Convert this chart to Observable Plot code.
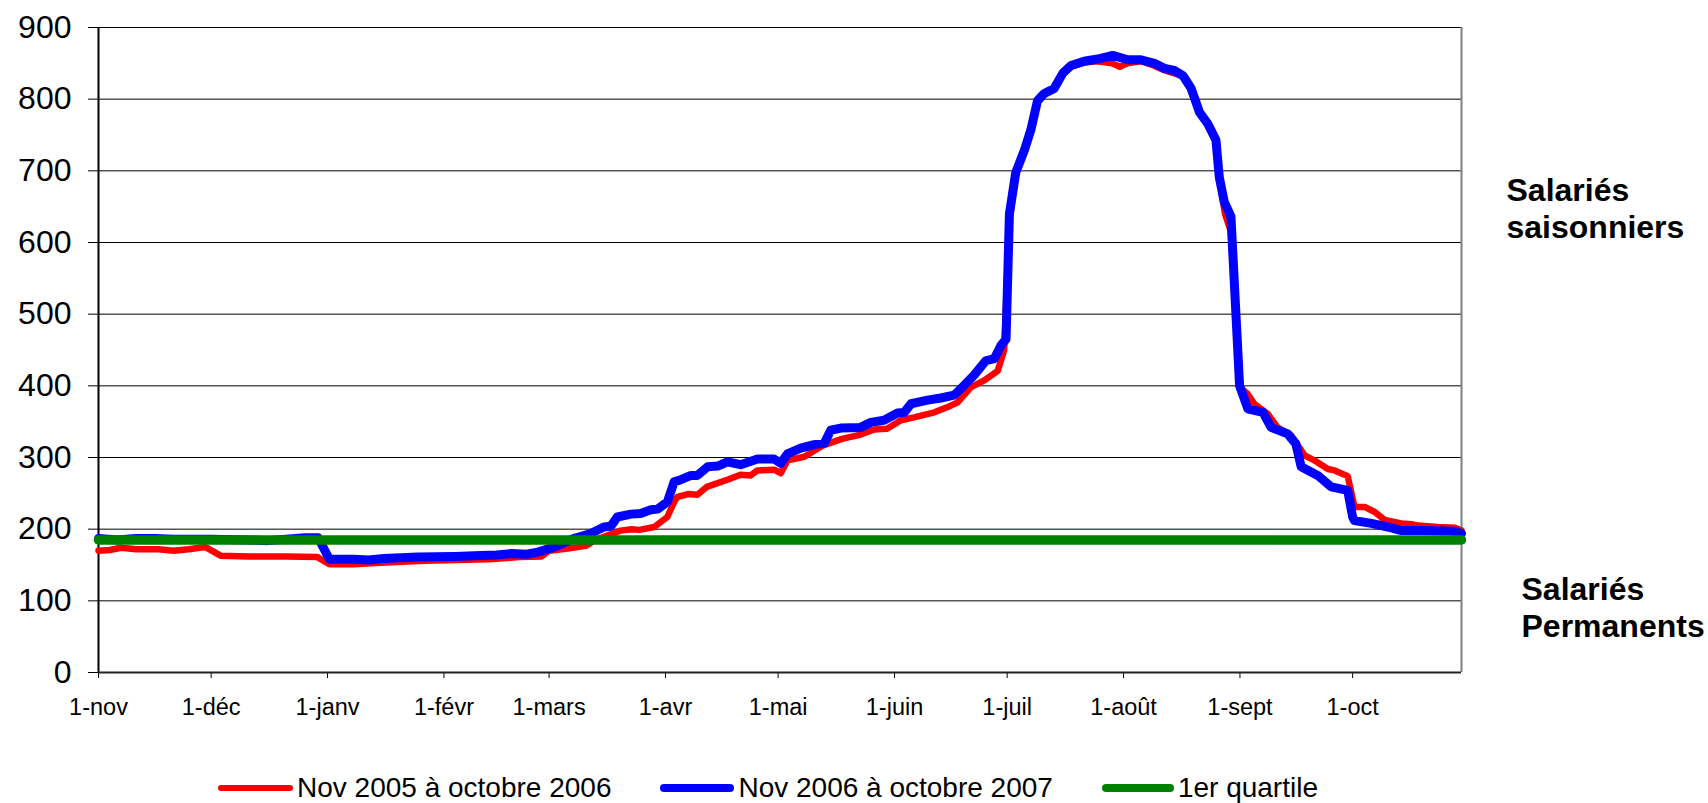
<!DOCTYPE html>
<html>
<head>
<meta charset="utf-8">
<script src="https://cdn.jsdelivr.net/npm/d3@7"></script>
<script src="https://cdn.jsdelivr.net/npm/@observablehq/plot@0.6"></script>
<style>
  html, body { margin: 0; padding: 0; background: #fff; overflow: hidden; }
  #wrap { position: relative; width: 1708px; height: 803px; overflow: hidden; font-family: "Liberation Sans", Arial, sans-serif; }
  #legend { position: absolute; left: 218px; top: 769px; height: 38px; display: flex; align-items: center; }
  .item { display: flex; align-items: center; font-size: 28px; color: #000; white-space: nowrap; }
  .sw { display: inline-block; margin-right: 4px; }
</style>
</head>
<body>
<div id="wrap">
  <div id="chart"></div>
  <div id="legend"></div>
</div>
<script>
// ---- Data ----
// x: day offset counted from 1 November; y: number of employees
const monthTicks = ["2006-11-01","2006-12-01","2007-01-01","2007-02-01","2007-03-01","2007-04-01","2007-05-01","2007-06-01","2007-07-01","2007-08-01","2007-09-01","2007-10-01"];
const monthLabels = ["1-nov","1-déc","1-janv","1-févr","1-mars","1-avr","1-mai","1-juin","1-juil","1-août","1-sept","1-oct"];
const yTicks = [0,100,200,300,400,500,600,700,800,900];

const seriesNames = ["Nov 2005 à octobre 2006", "Nov 2006 à octobre 2007", "1er quartile"];

const daysA = [0,3,6,10,16,20,24,28.5,32.5,40,50,58.3,61.5,68,75,87,95,104,112,118,120,125,130,132,135.5,139,142,144,148,151.5,153.3,154.2,157,159.5,162,167.5,171,173.7,175.5,180,181.7,183.5,188,193,198,203,206.6,210,213.7,217.2,222.6,226,228.8,232.3,236,239.5,241.2,242.6,244.3,246.6,248.3,250,252,254.5,256.8,259,262.5,266,270,272,274,277.6,281,284,286.5,288.8,290.5,293,295.4,297.6,298.8,300,301.6,303.9,306,307.8,311.4,314,317.6,321.2,323.8,327.4,329.2,332.7,334.5,337.2,339.9,342.5,347,349.7,351.4,356.7,361.2,363];
const valuesA = [170,171,174,172,172,170,172,175,163,162,162,161,151,151,153,156,157,158,161,162,170,173,177,184,191,198,200,199,203,217,238,245,249,248,259,269,276,275,282,283,278,296,301,317,326,332,339,340,352,356,363,370,377,398,408,421,450,630,695,728,760,795,808,815,835,845,851,853,850,845,850,853,847,840,836,832,821,782,765,740,680,640,615,398,389,375,361,342,331,303,296,284,282,274,231,231,224,213,208,207,205,203,202,198];

const daysB = [0,5,10,15,20,30,40,45,50,55,58.5,61.5,68,72,76,85,95,100,106,110,114,117,121.3,126.6,131.1,134.6,136.4,138.2,141.8,144.4,147.1,148.9,151.5,153.3,155.1,157.8,159.5,162.2,164.9,167.5,171,175.5,179.9,181.7,183.5,187,190.6,193.3,195,197.7,203,205.7,209.2,212.8,214.6,216.4,220.8,224.3,227.9,230.6,233.2,236.3,238.6,240.3,241.7,242.6,244.3,246.6,248.3,250.1,251.9,254.5,256.8,259,262.5,266.1,270.1,274.1,277.6,281.2,283.9,286.5,288.8,291,293.2,295.4,297.6,298.5,299.8,301.6,303.9,306.1,310.1,312.3,316.7,318.9,320.3,324.7,328.3,332.7,334,334.5,339,343.4,347,352.3,361.2,363];
const valuesB = [187,185,187,187,186,186,185,184,186,188,188,158,158,157,159,161,162,163,164,166,165,168,175,187,194,203,204,217,221,222,227,228,238,266,269,275,275,287,288,294,290,298,298,292,305,313,318,320,338,341,342,349,352,362,363,375,380,383,387,401,415,435,438,456,465,640,698,729,757,798,808,815,836,847,853,856,861,855,855,850,843,840,833,815,782,766,743,691,657,636,400,368,363,342,333,319,287,275,259,254,217,212,208,203,198,198,197,194];

const quartileDays = [0, 363];
const quartileValue = 185;

// ---- Build tables ----
const start = Date.UTC(2006, 10, 1);
const toDate = d => new Date(start + d * 864e5);
const tableA = daysA.map((d, i) => ({date: toDate(d), value: valuesA[i]}));
const tableB = daysB.map((d, i) => ({date: toDate(d), value: valuesB[i]}));
const tableQ = quartileDays.map(d => ({date: toDate(d), value: quartileValue}));
const tickDates = monthTicks.map(s => new Date(s + "T00:00:00Z"));
const labelOf = new Map(tickDates.map((d, i) => [+d, monthLabels[i]]));
const xDomain = [toDate(quartileDays[0]), toDate(quartileDays[1])];

const colors = ["#ff0000", "#0000ff", "#008000"];
const widths = [6.5, 9, 9.5];
const font = '"Liberation Sans", Arial, sans-serif';

const chart = Plot.plot({
  width: 1708,
  height: 769,
  marginLeft: 98,
  marginRight: 247,
  marginTop: 27,
  marginBottom: 97,
  style: {fontFamily: font, color: "#000", background: "#fff", overflow: "visible"},
  x: {type: "utc", domain: xDomain},
  y: {domain: [0, 900]},
  marks: [
    Plot.ruleY(yTicks.filter(v => v > 0), {stroke: "#000", strokeWidth: 1}),
    Plot.ruleX([xDomain[1]], {stroke: "#808080", strokeWidth: 2}),
    Plot.axisY({ticks: yTicks, tickSize: 10, tickPadding: 17, fontSize: 32, label: null, tickFormat: d => String(d)}),
    Plot.axisX({ticks: tickDates, tickFormat: d => labelOf.get(+d), tickSize: 6, tickPadding: 20, fontSize: 23.5, label: null}),
    Plot.ruleX([xDomain[0]], {stroke: "#000", strokeWidth: 2}),
    Plot.ruleY([0], {stroke: "#222", strokeWidth: 2}),
    Plot.line(tableA, {x: "date", y: "value", stroke: colors[0], strokeWidth: widths[0], strokeLinejoin: "round", strokeLinecap: "round"}),
    Plot.line(tableB, {x: "date", y: "value", stroke: colors[1], strokeWidth: widths[1], strokeLinejoin: "round", strokeLinecap: "round"}),
    Plot.line(tableQ, {x: "date", y: "value", stroke: colors[2], strokeWidth: widths[2], strokeLinecap: "round"}),
    Plot.text(["Salariés\nsaisonniers"], {frameAnchor: "right", y: () => 649, text: d => d, dx: 45, textAnchor: "start", fontSize: 32, fontWeight: "bold", lineHeight: 1.16}),
    Plot.text(["Salariés\nPermanents"], {frameAnchor: "right", y: () => 92, text: d => d, dx: 60, textAnchor: "start", fontSize: 32, fontWeight: "bold", lineHeight: 1.16})
  ]
});
document.getElementById("chart").appendChild(chart);

// ---- Legend (HTML, below the SVG) ----
const legend = document.getElementById("legend");
const swW = [75, 74, 72], swH = [6, 8, 8], gaps = [49, 49, 0];
seriesNames.forEach((name, i) => {
  const item = document.createElement("div");
  item.className = "item";
  item.style.marginRight = gaps[i] + "px";
  const sw = document.createElement("span");
  sw.className = "sw";
  sw.style.width = swW[i] + "px";
  sw.style.height = swH[i] + "px";
  sw.style.background = colors[i];
  sw.style.borderRadius = (swH[i] / 2) + "px";
  item.appendChild(sw);
  const t = document.createElement("span");
  t.textContent = name;
  item.appendChild(t);
  legend.appendChild(item);
});
</script>
</body>
</html>
